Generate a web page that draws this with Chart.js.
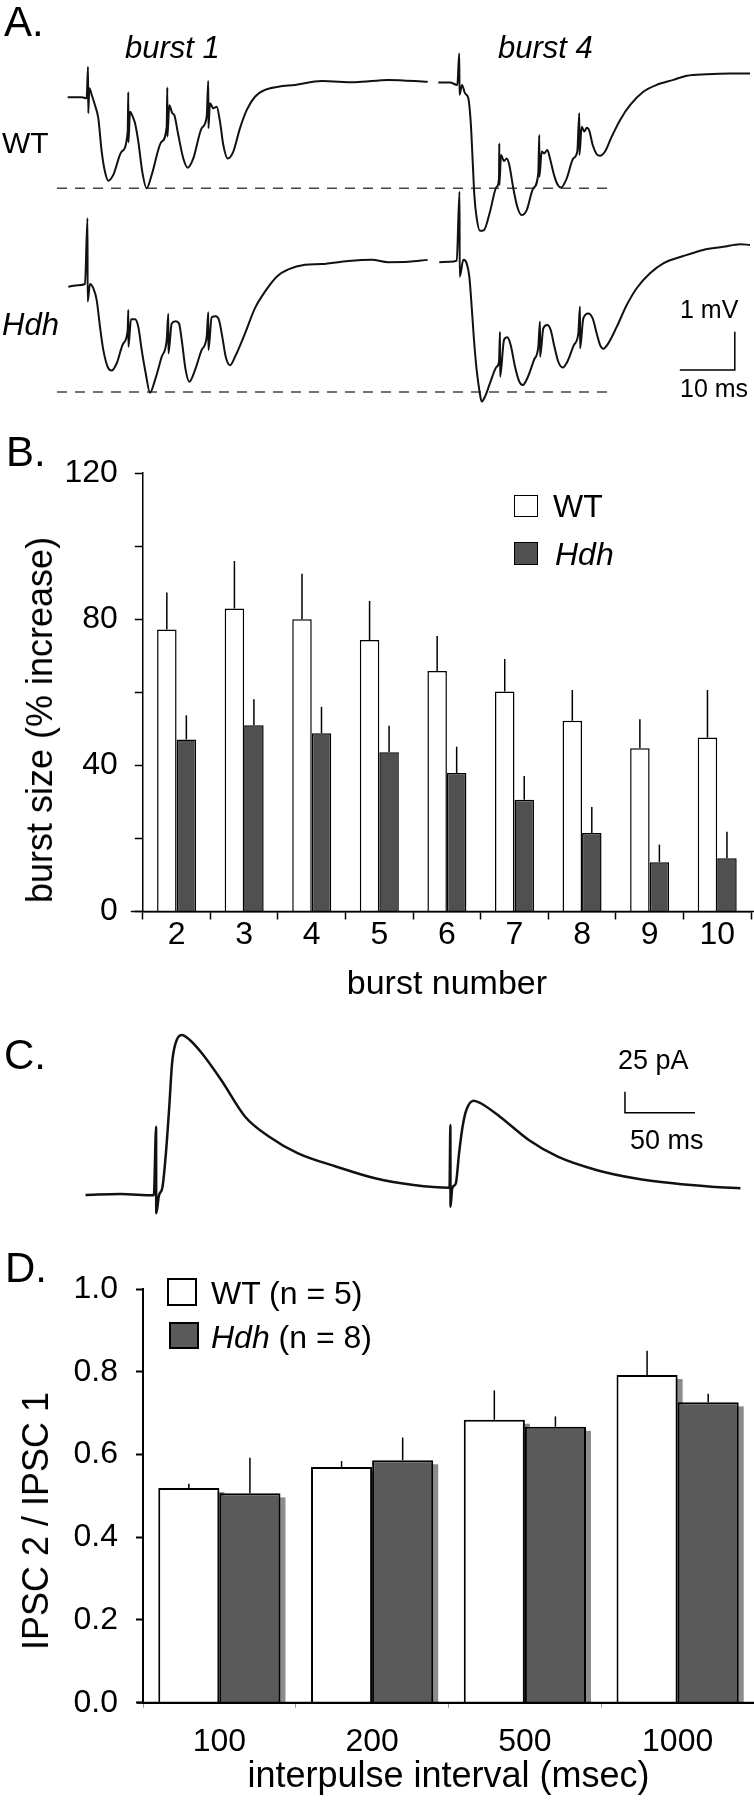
<!DOCTYPE html>
<html>
<head>
<meta charset="utf-8">
<title>Burst facilitation and paired-pulse IPSCs</title>
<script src="https://cdn.jsdelivr.net/npm/chart.js@4.4.0/dist/chart.umd.min.js"></script>
<style>
  html, body { margin: 0; padding: 0; background: #fff; }
  #page { position: relative; width: 754px; height: 1800px; overflow: hidden;
          font-family: "Liberation Sans", Arial, Helvetica, sans-serif; color: #000; }
  #page canvas { position: absolute; left: 0; }
  .lbl { position: absolute; white-space: nowrap; line-height: 1; }
  .key { position: absolute; box-sizing: border-box; border: 2px solid #000; background: #fff; }
</style>
</head>
<body>
<div id="page">
  <canvas id="traceWT" width="754" height="205" style="top:40px"></canvas>
  <canvas id="traceHdh" width="754" height="235" style="top:185px"></canvas>
  <canvas id="chartB" width="754" height="562" style="top:440px"></canvas>
  <canvas id="traceC" width="754" height="230" style="top:1000px"></canvas>
  <canvas id="chartD" width="754" height="540" style="top:1255px"></canvas>

  <div class="key" style="left:514px;top:495px;width:24px;height:22px;border-width:1.5px"></div>
  <div class="key" style="left:514px;top:542px;width:24px;height:23px;border-width:1.5px;background:#505050"></div>
  <div class="key" style="left:167px;top:1278px;width:30px;height:28px"></div>
  <div class="key" style="left:169px;top:1322px;width:30px;height:27px;background:#5a5a5a"></div>
</div>
<script>
// ---- panel A: field potentials, time in ms, voltage in mV (0 = dashed peak line)
const wtBurst1 = [
  [12.31, 2.38], [14.85, 2.38], [15.76, 2.35], [16.00, 3.17], [16.05, 1.96], [16.24, 2.61],
  [16.67, 2.44], [17.27, 2.17], [17.87, 1.83], [18.49, 0.96], [19.09, 0.43], [19.69, 0.20],
  [20.60, 0.35], [22.13, 0.96], [23.22, 1.48], [23.33, 2.51], [23.35, 1.20], [23.64, 2.00],
  [24.24, 1.83], [24.55, 1.70], [25.15, 1.22], [25.87, 0.43], [26.67, 0.00], [27.58, 0.35],
  [29.40, 1.22], [30.31, 1.61], [30.42, 2.63], [30.44, 1.35], [30.78, 2.17], [31.33, 1.96],
  [31.69, 1.91], [32.42, 1.39], [33.33, 0.78], [34.13, 0.54], [35.15, 0.78], [36.67, 1.57],
  [37.58, 1.87], [37.87, 2.80], [37.89, 1.57], [38.18, 2.22], [38.78, 2.09], [39.40, 2.13],
  [40.00, 1.74], [40.60, 1.13], [41.40, 0.78], [42.42, 0.96], [43.64, 1.57], [44.85, 2.04],
  [46.36, 2.39], [48.18, 2.57], [50.60, 2.65], [53.64, 2.70], [58.49, 2.80], [64.55, 2.77],
  [70.60, 2.83], [77.76, 2.78]
];
const wtBurst4 = [
  [79.69, 2.76], [81.82, 2.76], [83.15, 2.70], [83.50, 3.52], [83.55, 2.44], [84.00, 2.70],
  [84.55, 2.48], [85.15, 2.35], [85.58, 1.74], [85.95, 0.69], [86.24, -0.17], [86.67, -0.78],
  [87.27, -1.11], [88.00, -1.09], [89.09, -0.61], [90.31, 0.04], [90.73, 0.26], [90.78, 1.17],
  [90.80, 0.09], [91.09, 0.87], [91.64, 0.71], [92.13, 0.78], [92.60, 0.61], [93.33, 0.00],
  [94.05, -0.48], [94.85, -0.70], [95.76, -0.57], [96.96, 0.00], [97.87, 0.39], [98.05, 1.39],
  [98.07, 0.30], [98.49, 0.96], [98.91, 0.91], [99.51, 1.00], [100.00, 0.78], [100.73, 0.35],
  [101.40, 0.09], [102.00, 0.02], [103.04, 0.26], [104.24, 0.78], [104.96, 0.96], [105.33, 1.96],
  [105.35, 0.87], [105.76, 1.61], [106.24, 1.48], [106.67, 1.58], [107.15, 1.50], [107.76, 1.13],
  [108.49, 0.89], [109.09, 0.85], [110.00, 0.96], [111.22, 1.35], [112.73, 1.78], [114.55, 2.17],
  [116.96, 2.52], [119.40, 2.70], [122.42, 2.83], [124.85, 2.94], [128.49, 2.98], [132.73, 3.00],
  [136.36, 3.00]
];
const hdhBurst1 = [
  [12.42, 2.75], [14.24, 2.79], [15.45, 2.82], [15.91, 4.54], [15.93, 2.36], [16.36, 2.82],
  [16.96, 2.71], [17.58, 2.40], [18.18, 1.70], [18.78, 1.10], [19.69, 0.62], [20.31, 0.56],
  [21.22, 0.75], [22.42, 1.27], [23.22, 1.62], [23.33, 2.14], [23.35, 1.18], [23.82, 1.90],
  [24.55, 1.90], [25.15, 1.70], [25.76, 1.10], [26.49, 0.49], [27.27, -0.02], [28.18, 0.31],
  [29.40, 0.92], [30.31, 1.36], [30.60, 2.04], [30.62, 1.01], [31.22, 1.79], [31.95, 1.85],
  [32.55, 1.79], [33.04, 1.36], [33.76, 0.57], [34.42, 0.27], [35.45, 0.57], [36.67, 1.10],
  [37.58, 1.44], [37.87, 2.08], [37.89, 1.10], [38.49, 1.95], [39.22, 1.98], [39.82, 1.88],
  [40.42, 1.44], [41.04, 0.92], [41.82, 0.70], [42.73, 0.92], [44.55, 1.53], [46.36, 2.19],
  [48.18, 2.62], [50.31, 3.01], [52.42, 3.20], [55.45, 3.32], [58.49, 3.34], [63.33, 3.42],
  [67.58, 3.45], [70.60, 3.39], [74.24, 3.40], [77.76, 3.45]
];
const hdhBurst4 = [
  [79.87, 3.39], [81.82, 3.40], [83.04, 3.43], [83.55, 5.23], [83.58, 3.01], [84.24, 3.45],
  [84.85, 3.36], [85.33, 3.01], [85.76, 2.23], [86.18, 1.36], [86.67, 0.57], [87.15, 0.05],
  [87.58, -0.25], [88.18, -0.12], [89.09, 0.23], [90.31, 0.66], [90.73, 0.79], [90.91, 1.57],
  [90.93, 0.40], [91.64, 1.36], [92.24, 1.43], [92.85, 1.23], [93.64, 0.66], [94.42, 0.27],
  [95.04, 0.18], [95.87, 0.36], [97.09, 0.84], [97.87, 1.18], [98.18, 1.84], [98.20, 0.92],
  [98.78, 1.66], [99.51, 1.75], [100.13, 1.62], [100.73, 1.23], [101.51, 0.79], [102.31, 0.64],
  [103.15, 0.79], [104.36, 1.23], [105.15, 1.53], [105.45, 2.23], [105.47, 1.14], [106.05, 1.92],
  [106.96, 2.05], [107.76, 1.92], [108.49, 1.53], [109.09, 1.23], [109.69, 1.13], [110.60, 1.27],
  [112.13, 1.70], [113.95, 2.27], [115.76, 2.71], [118.18, 3.10], [120.60, 3.36], [124.24, 3.55],
  [127.87, 3.71], [131.51, 3.79], [134.55, 3.86], [136.36, 3.84]
];
const peakLine = [[10.36, 0], [111.27, 0]];
const mvScaleBar = [[123.6, 0.574], [133.6, 0.574], [133.6, 1.574]];   // 10 ms, 1 mV

// ---- panel B: burst size (% increase)
const burstNumbers = ['2', '3', '4', '5', '6', '7', '8', '9', '10'];
const wtBurstSize = [77.2, 82.9, 80.0, 74.3, 65.8, 60.2, 52.2, 44.7, 47.6];
const wtBurstSem = [10.1, 13.0, 12.4, 10.7, 9.6, 8.9, 8.4, 7.9, 13.0];
const hdhBurstSize = [47.1, 51.0, 48.8, 43.6, 37.9, 30.6, 21.5, 13.5, 14.6];
const hdhBurstSem = [6.6, 7.1, 7.2, 7.2, 7.2, 6.5, 7.1, 4.8, 7.2];

// ---- panel C: paired IPSCs, time in ms, current in pA
const ipscTrace = [
  [61.1, 0.0], [85.9, 1.2], [109.9, -0.4], [111.5, 81.3], [111.6, -21.8], [113.5, -1.0],
  [116.1, 9.9], [118.5, 49.6], [120.9, 105.1], [122.9, 156.8], [125.4, 180.6], [129.8, 190.5],
  [135.6, 184.5], [144.2, 168.7], [158.0, 136.9], [175.1, 93.2], [192.3, 69.4], [212.9, 49.6],
  [240.4, 33.7], [267.9, 19.9], [295.4, 11.9], [321.1, 8.7], [321.7, 83.3], [321.8, -13.9],
  [323.0, 8.0], [325.6, 13.9], [327.9, 49.6], [330.4, 81.3], [333.1, 101.2], [338.3, 112.3],
  [343.4, 109.2], [357.1, 93.2], [377.7, 65.5], [398.4, 45.6], [425.9, 29.8], [453.3, 19.9],
  [480.8, 13.9], [508.2, 9.9], [528.9, 8.0]
];
const paScaleBar = [[496.4, 98.0], [446.4, 98.0], [446.4, 123.0]];   // 50 ms, 25 pA

// ---- panel D: IPSC 2 / IPSC 1
const intervals = ['100', '200', '500', '1000'];
const wtRatio = [0.519, 0.570, 0.684, 0.792];
const wtRatioSem = [0.010, 0.014, 0.071, 0.059];
const hdhRatio = [0.506, 0.586, 0.667, 0.726];
const hdhRatioSem = [0.086, 0.055, 0.025, 0.021];

const FONT = '"Liberation Sans", Arial, Helvetica, sans-serif';
Chart.defaults.font.family = FONT;
Chart.defaults.color = '#000';

function toXY(points) {
    return points.map(p => ({ x: p[0], y: p[1] }));
}

function trace(points, width) {
    return {
        data: toXY(points),
        borderColor: '#111',
        borderWidth: width || 2,
        cubicInterpolationMode: 'monotone',
        pointRadius: 0
    };
}

function straight(points, width, dash) {
    return {
        data: toXY(points),
        borderColor: dash ? '#444' : '#000',
        borderWidth: width,
        borderDash: dash || [],
        tension: 0,
        pointRadius: 0
    };
}

function traceChart(canvasId, datasets, xMax, yMin, yMax) {
    return new Chart(document.getElementById(canvasId), {
        type: 'line',
        data: { datasets: datasets },
        options: {
            responsive: false,
            animation: false,
            devicePixelRatio: 1,
            layout: { padding: 0 },
            plugins: { legend: { display: false }, tooltip: { enabled: false } },
            scales: {
                x: { type: 'linear', min: 0, max: xMax, display: false },
                y: { type: 'linear', min: yMin, max: yMax, display: false }
            }
        }
    });
}

// error bars (upward only) stored on each dataset as `errors`
const errorBars = {
    id: 'errorBars',
    afterDatasetsDraw(chart, args, opts) {
        const ctx = chart.ctx;
        const yScale = chart.scales.y;
        ctx.save();
        ctx.strokeStyle = '#000';
        ctx.lineWidth = opts.width || 1.5;
        chart.data.datasets.forEach((ds, i) => {
            chart.getDatasetMeta(i).data.forEach((bar, j) => {
                ctx.beginPath();
                ctx.moveTo(bar.x, bar.y);
                ctx.lineTo(bar.x, yScale.getPixelForValue(ds.data[j] + ds.errors[j]));
                ctx.stroke();
            });
        });
        ctx.restore();
    }
};

// the x axis line runs a little past the y axis and to the page edge
const axisOverhang = {
    id: 'axisOverhang',
    afterDraw(chart, args, opts) {
        const ctx = chart.ctx;
        const area = chart.chartArea;
        ctx.save();
        ctx.strokeStyle = '#000';
        ctx.lineWidth = opts.width;
        ctx.beginPath();
        ctx.moveTo(area.left - opts.left, area.bottom);
        ctx.lineTo(chart.width, area.bottom);
        ctx.stroke();
        ctx.restore();
    }
};

// grey drop shadow behind the bars of panel D
const barShadow = {
    id: 'barShadow',
    beforeDatasetsDraw(chart, args, opts) {
        const ctx = chart.ctx;
        ctx.save();
        ctx.fillStyle = opts.color;
        chart.data.datasets.forEach((ds, i) => {
            chart.getDatasetMeta(i).data.forEach(bar => {
                ctx.fillRect(bar.x - bar.width / 2 + opts.dx, bar.y + opts.dy,
                             bar.width, bar.base - bar.y - opts.dy);
            });
        });
        ctx.restore();
    }
};

// ---- panel A
traceChart('traceWT', [
    trace(wtBurst1),
    trace(wtBurst4),
    straight(peakLine, 1.5, [10, 8])
], 754 / 5.5, -1.480, 3.872);

traceChart('traceHdh', [
    trace(hdhBurst1),
    trace(hdhBurst4),
    straight(peakLine, 1.5, [10, 8]),
    straight(mvScaleBar, 1.5)
], 754 / 5.5, -0.731, 5.405);

// ---- panel B
new Chart(document.getElementById('chartB'), {
    type: 'bar',
    data: {
        labels: burstNumbers,
        datasets: [
            { label: 'WT', data: wtBurstSize, errors: wtBurstSem,
              backgroundColor: '#ffffff', borderColor: '#000', borderWidth: 1.5 },
            { label: 'Hdh', data: hdhBurstSize, errors: hdhBurstSem,
              backgroundColor: '#505050', borderColor: '#000', borderWidth: 1.5 }
        ]
    },
    options: {
        responsive: false,
        animation: false,
        devicePixelRatio: 1,
        layout: { padding: { top: 14.3, right: 3, left: 0, bottom: 0 } },
        datasets: { bar: { categoryPercentage: 0.577, barPercentage: 1.0 } },
        plugins: {
            legend: { display: false },
            tooltip: { enabled: false },
            errorBars: { width: 1.5 },
            axisOverhang: { left: 12, width: 1.5 }
        },
        scales: {
            x: {
                grid: { offset: true, drawOnChartArea: false, tickLength: 8, tickColor: '#000', tickWidth: 1.5 },
                border: { color: '#000', width: 1.5 },
                ticks: { font: { size: 32, lineHeight: 1 }, padding: 0, maxRotation: 0, autoSkip: false },
                title: { display: true, text: 'burst number', font: { size: 34, lineHeight: 1 }, padding: 0 },
                afterFit: scale => { scale.height = 90.5; }
            },
            y: {
                min: 0,
                max: 120,
                grid: { drawOnChartArea: false, tickLength: 8, tickColor: '#000', tickWidth: 1.5 },
                border: { color: '#000', width: 1.5 },
                ticks: {
                    stepSize: 20,
                    padding: 17,
                    font: { size: 32, lineHeight: 1 },
                    callback: value => (value % 40 === 0 ? String(value) : '')
                },
                afterFit: scale => { scale.width = 142.8; }
            }
        }
    },
    plugins: [errorBars, axisOverhang]
});

// ---- panel C
traceChart('traceC', [
    trace(ipscTrace, 2.5),
    straight(paScaleBar, 1.5)
], 754 / 1.4, -41.67, 232.14);

// ---- panel D
new Chart(document.getElementById('chartD'), {
    type: 'bar',
    data: {
        labels: intervals,
        datasets: [
            { label: 'WT (n = 5)', data: wtRatio, errors: wtRatioSem,
              backgroundColor: '#ffffff', borderColor: '#000', borderWidth: 2 },
            { label: 'Hdh (n = 8)', data: hdhRatio, errors: hdhRatioSem,
              backgroundColor: '#5a5a5a', borderColor: '#000', borderWidth: 2 }
        ]
    },
    options: {
        responsive: false,
        animation: false,
        devicePixelRatio: 1,
        layout: { padding: { top: 19, right: 0, left: 0, bottom: 0 } },
        datasets: { bar: { categoryPercentage: 0.80, barPercentage: 1.0 } },
        plugins: {
            legend: { display: false },
            tooltip: { enabled: false },
            errorBars: { width: 1.5 },
            barShadow: { color: '#8c8c8c', dx: 5, dy: 4 },
            axisOverhang: { left: 6, width: 2 }
        },
        scales: {
            x: {
                grid: { offset: true, drawOnChartArea: false, tickLength: 5, tickColor: '#999', tickWidth: 1 },
                border: { color: '#000', width: 2 },
                ticks: { font: { size: 32, lineHeight: 1 }, padding: 18, maxRotation: 0, autoSkip: false },
                title: { display: true, text: 'interpulse interval (msec)', font: { size: 36, lineHeight: 1 }, padding: 0 },
                afterFit: scale => { scale.height = 92.3; }
            },
            y: {
                min: 0,
                max: 1.0,
                grid: { drawOnChartArea: false, tickLength: 7, tickColor: '#000', tickWidth: 2 },
                border: { color: '#000', width: 2 },
                ticks: {
                    stepSize: 0.2,
                    padding: 18,
                    font: { size: 32, lineHeight: 1 },
                    callback: value => value.toFixed(1)
                },
                afterFit: scale => { scale.width = 143; }
            }
        }
    },
    plugins: [barShadow, errorBars, axisOverhang]
});

// ---- text labels, placed by baseline
const page = document.getElementById('page');

function addText(html, x, baseline, size, italic) {
    const el = document.createElement('div');
    el.className = 'lbl';
    el.innerHTML = html;
    el.style.left = x + 'px';
    el.style.top = (baseline - 0.8465 * size) + 'px';
    el.style.fontSize = size + 'px';
    if (italic) el.style.fontStyle = 'italic';
    page.appendChild(el);
}

function addVertical(text, cx, cy, size) {
    const el = document.createElement('div');
    el.className = 'lbl';
    el.textContent = text;
    el.style.left = cx + 'px';
    el.style.top = cy + 'px';
    el.style.fontSize = size + 'px';
    el.style.transform = 'translate(-50%, -50%) rotate(-90deg)';
    page.appendChild(el);
}

addText('A.', 4, 36.7, 42);
addText('burst 1', 125, 58.3, 31, true);
addText('burst 4', 498, 58.3, 31, true);
addText('WT', 2, 153.3, 30);
addText('Hdh', 2, 335, 31, true);
addText('1 mV', 680, 318, 25);
addText('10 ms', 680, 397, 25);

addText('B.', 6, 466.7, 42);
addVertical('burst size (% increase)', 40, 720, 36);
addText('WT', 553, 516.7, 32);
addText('Hdh', 555, 565, 32, true);

addText('C.', 4, 1070, 42);
addText('25 pA', 618, 1070, 27);
addText('50 ms', 630, 1150, 27);

addText('D.', 5, 1283, 42);
addVertical('IPSC 2 / IPSC 1', 36, 1521, 36);
addText('WT (n = 5)', 211, 1304, 32);
addText('<i>Hdh</i> (n = 8)', 211, 1348, 32);
</script>
</body>
</html>
